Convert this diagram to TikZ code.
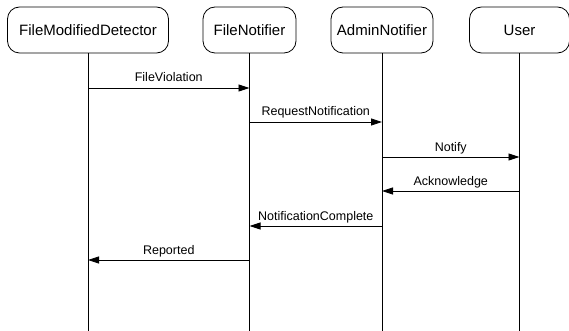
\documentclass[tikz,border=0pt]{standalone}
\usepackage{fontspec}
\setmainfont{Liberation Sans}
\usetikzlibrary{arrows.meta}

\begin{document}
\begin{tikzpicture}[x=1pt, y=-1pt,
  actor/.style={draw=black, line width=0.8pt, rounded corners=12pt,
    minimum height=46pt, inner sep=0pt, font=\fontsize{15}{18}\selectfont},
  lifeline/.style={draw=black, line width=0.8pt},
  msg/.style={draw=black, line width=0.8pt, -{Triangle[length=11pt,width=7pt]}},
  msglabel/.style={midway, anchor=base, yshift=6pt, inner sep=0pt,
    font=\fontsize{12.5}{15}\selectfont}]
\useasboundingbox (0,0) rectangle (569,331);

% participants
\node[actor, minimum width=161pt] (fmd) at (88,30)    {FileModifiedDetector};
\node[actor, minimum width=93pt]  (fn)  at (249.5,30) {FileNotifier};
\node[actor, minimum width=102pt] (an)  at (382,30)   {AdminNotifier};
\node[actor, minimum width=100pt] (us)  at (519.5,30) {User};

% bottom of the lifelines
\coordinate (bottom) at (0,331);
\draw[lifeline] (fmd.south) -- (fmd |- bottom);
\draw[lifeline] (fn.south)  -- (fn |- bottom);
\draw[lifeline] (an.south)  -- (an |- bottom);
\draw[lifeline] (us.south)  -- (us |- bottom);

% message rows
\coordinate (r1) at (0,88);
\coordinate (r2) at (0,122);
\coordinate (r3) at (0,157);
\coordinate (r4) at (0,191);
\coordinate (r5) at (0,226);
\coordinate (r6) at (0,260);

% messages
\draw[msg] (fmd |- r1) -- (fn |- r1)  node[msglabel] {FileViolation};
\draw[msg] (fn |- r2)  -- (an |- r2)  node[msglabel] {RequestNotification};
\draw[msg] (an |- r3)  -- (us |- r3)  node[msglabel] {Notify};
\draw[msg] (us |- r4)  -- (an |- r4)  node[msglabel] {Acknowledge};
\draw[msg] (an |- r5)  -- (fn |- r5)  node[msglabel] {NotificationComplete};
\draw[msg] (fn |- r6)  -- (fmd |- r6) node[msglabel] {Reported};
\end{tikzpicture}
\end{document}
